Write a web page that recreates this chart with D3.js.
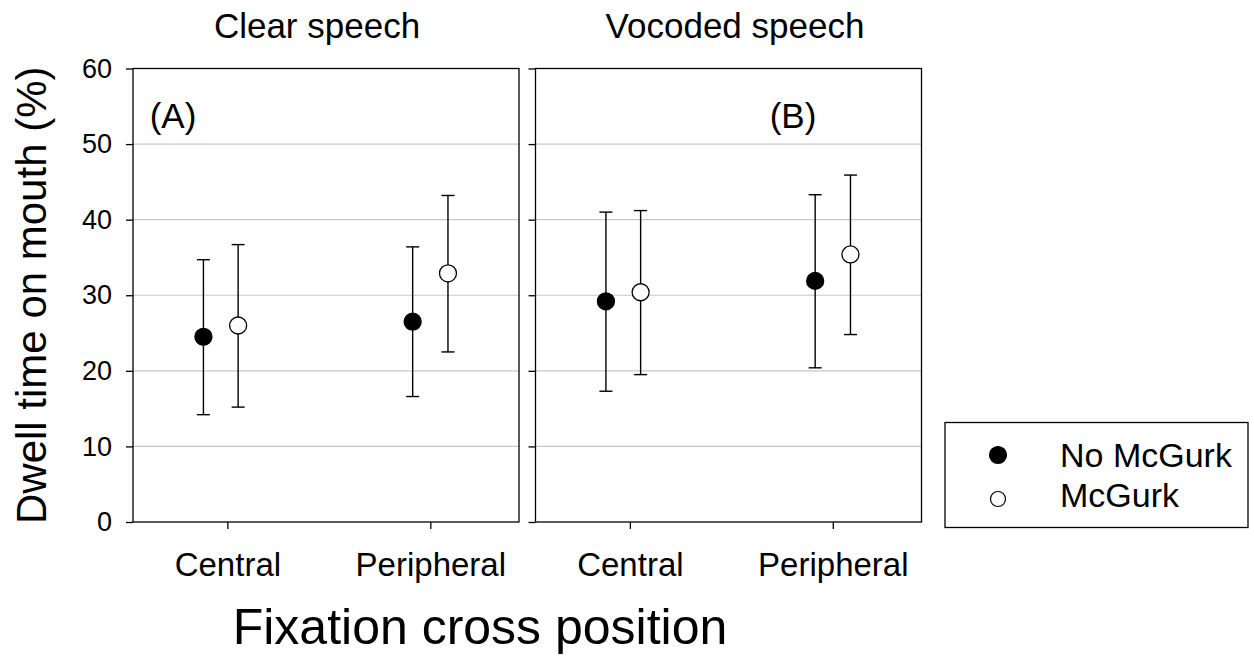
<!DOCTYPE html>
<html lang="en">
<head>
    <meta charset="UTF-8">
    <title>Dwell time on mouth</title>
    <script src="https://d3js.org/d3.v7.min.js"></script>
    <style>
        body { margin: 0; background: #fff; }
        text { font-family: "Liberation Sans", Arial, sans-serif; fill: #000; }
        .grid line { stroke: #c8c8c8; stroke-width: 1.2; }
        .axis path, .axis line { stroke: #000; stroke-width: 1.3; }
    </style>
</head>
<body>
    <svg width="1254" height="659"></svg>
    <script>
        // Datos
        var panels = ["Clear speech", "Vocoded speech"];
        var panelTags = ["(A)", "(B)"];
        var positions = ["Central", "Peripheral"];
        var series = ["No McGurk", "McGurk"];
        var yTicks = [0, 10, 20, 30, 40, 50, 60];

        // media, límite superior e inferior (por posición: Central, Peripheral)
        var clearNoMean = [24.5, 26.5], clearNoHi = [34.7, 36.4], clearNoLo = [14.2, 16.6];
        var clearMcMean = [26.0, 32.9], clearMcHi = [36.7, 43.2], clearMcLo = [15.2, 22.5];
        var vocNoMean = [29.2, 31.9], vocNoHi = [41.0, 43.3], vocNoLo = [17.3, 20.4];
        var vocMcMean = [30.4, 35.4], vocMcHi = [41.2, 45.9], vocMcLo = [19.5, 24.8];

        var panelData = [
            [[clearNoMean, clearNoHi, clearNoLo], [clearMcMean, clearMcHi, clearMcLo]],
            [[vocNoMean, vocNoHi, vocNoLo], [vocMcMean, vocMcHi, vocMcLo]]
        ];

        // desplazamiento horizontal de cada serie en cada posición
        var dodge = [[-0.118, 0.053], [-0.087, 0.087]];

        var svg = d3.select("svg");
        var panelLeft = [133, 535.5], panelW = 386, plotTop = 68.5, plotBottom = 522;
        var titleX = [317, 735], tagX = [173, 793];

        var y = d3.scaleLinear().domain([0, 60]).range([plotBottom, plotTop]);

        panels.forEach(function(name, p) {
            var x = d3.scaleLinear().domain([0.535, 2.437]).range([panelLeft[p], panelLeft[p] + panelW]);
            var g = svg.append("g");

            // líneas de la cuadrícula
            g.append("g").attr("class", "grid")
                .selectAll("line")
                .data(yTicks.filter(function(t) { return t > 0 && t < 60; }))
                .enter().append("line")
                .attr("x1", x.range()[0]).attr("x2", x.range()[1])
                .attr("y1", function(d) { return y(d); })
                .attr("y2", function(d) { return y(d); });

            // marco del panel
            g.append("rect")
                .attr("x", x.range()[0]).attr("y", plotTop)
                .attr("width", panelW).attr("height", plotBottom - plotTop)
                .attr("fill", "none").attr("stroke", "#000").attr("stroke-width", 1.3);

            // eje Y
            var yAxis = d3.axisLeft(y).tickValues(yTicks).tickSize(7).tickPadding(14);
            if (p === 1) yAxis.tickFormat("");
            g.append("g").attr("class", "axis")
                .attr("transform", "translate(" + x.range()[0] + ",0)")
                .call(yAxis)
                .call(function(a) { a.select(".domain").remove(); })
                .selectAll("text").style("font-size", "27px");

            // eje X
            g.append("g").attr("class", "axis")
                .attr("transform", "translate(0," + plotBottom + ")")
                .call(d3.axisBottom(x).tickValues([1, 2]).tickSize(7).tickPadding(24)
                    .tickFormat(function(d) { return positions[d - 1]; }))
                .call(function(a) { a.select(".domain").remove(); })
                .selectAll("text").style("font-size", "33px");

            // título del panel
            svg.append("text")
                .attr("x", titleX[p]).attr("y", 38)
                .attr("text-anchor", "middle")
                .style("font-size", "35px")
                .text(name);

            svg.append("text")
                .attr("x", tagX[p]).attr("y", 128)
                .attr("text-anchor", "middle")
                .style("font-size", "35px")
                .text(panelTags[p]);

            // barras de error y puntos
            panelData[p].forEach(function(s, si) {
                var pts = positions.map(function(pos, i) {
                    return { x: i + 1 + dodge[i][si], m: s[0][i], hi: s[1][i], lo: s[2][i] };
                });
                var eb = g.append("g").attr("stroke", "#000").attr("stroke-width", 1.4);
                eb.selectAll(".v").data(pts).enter().append("line")
                    .attr("x1", function(d) { return x(d.x); })
                    .attr("x2", function(d) { return x(d.x); })
                    .attr("y1", function(d) { return y(d.lo); })
                    .attr("y2", function(d) { return y(d.hi); });
                ["hi", "lo"].forEach(function(k) {
                    eb.selectAll(".c" + k).data(pts).enter().append("line")
                        .attr("x1", function(d) { return x(d.x) - 6.5; })
                        .attr("x2", function(d) { return x(d.x) + 6.5; })
                        .attr("y1", function(d) { return y(d[k]); })
                        .attr("y2", function(d) { return y(d[k]); });
                });
                g.selectAll(".pt" + si).data(pts).enter().append("circle")
                    .attr("cx", function(d) { return x(d.x); })
                    .attr("cy", function(d) { return y(d.m); })
                    .attr("r", 8.5)
                    .attr("fill", si === 0 ? "#000" : "#fff")
                    .attr("stroke", "#000").attr("stroke-width", 1.3);
            });
        });

        // título del eje Y
        svg.append("text")
            .attr("transform", "translate(46," + (plotTop + plotBottom) / 2 + ") rotate(-90)")
            .attr("text-anchor", "middle")
            .style("font-size", "42px")
            .text("Dwell time on mouth (%)");

        // título del eje X
        svg.append("text")
            .attr("x", 480).attr("y", 644)
            .attr("text-anchor", "middle")
            .style("font-size", "50px")
            .text("Fixation cross position");

        // leyenda
        var lg = svg.append("g");
        lg.append("rect")
            .attr("x", 945).attr("y", 422.5).attr("width", 303).attr("height", 105)
            .attr("fill", "#fff").attr("stroke", "#000").attr("stroke-width", 1.3);
        lg.selectAll("circle").data(series).enter().append("circle")
            .attr("cx", 998)
            .attr("cy", function(d, i) { return 455 + i * 44; })
            .attr("r", function(d, i) { return i === 0 ? 8.5 : 7.5; })
            .attr("fill", function(d, i) { return i === 0 ? "#000" : "#fff"; })
            .attr("stroke", "#000").attr("stroke-width", 1.2);
        lg.selectAll("text").data(series).enter().append("text")
            .attr("x", 1060)
            .attr("y", function(d, i) { return 467 + i * 40; })
            .style("font-size", "34px")
            .text(function(d) { return d; });
    </script>
</body>
</html>
